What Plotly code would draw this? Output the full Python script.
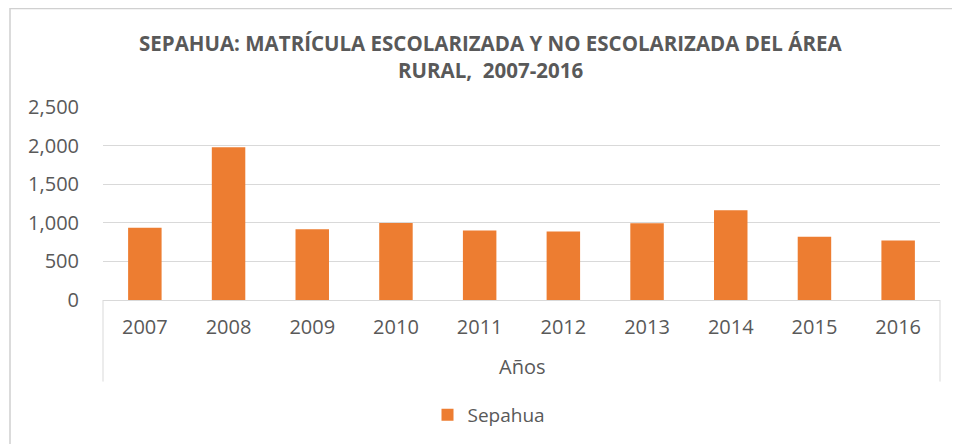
import plotly.graph_objects as go

years = ["2007", "2008", "2009", "2010", "2011", "2012", "2013", "2014", "2015", "2016"]
sepahua = [935, 1978, 918, 996, 901, 888, 995, 1164, 819, 772]
y_ticks = [0, 500, 1000, 1500, 2000, 2500]

# page body has an 8px margin; work in target-page coordinates and shift
OFF = 8
W, H = 960 - OFF, 444 - OFF
PL, PR, PT, PB = 103, 940, 107, 301  # plot area in page coordinates
L, T = PL - OFF, PT - OFF
R, B = W - (PR - OFF), H - (PB - OFF)
pw, ph = PR - PL, PB - PT

def px(x):
    return (x - PL) / pw

def py(y):
    return (PB - y) / ph

GRAY = "#595959"
FONT = "Open Sans"

fig = go.Figure()
fig.add_trace(go.Bar(x=years, y=sepahua, name="Sepahua", marker_color="#ED7D31",
                     marker_line_width=0))

fig.update_layout(
    width=W, height=H,
    margin=dict(l=L, r=R, t=T, b=B),
    paper_bgcolor="white", plot_bgcolor="white",
    bargap=0.6,
    font=dict(family=FONT, color=GRAY, size=18),
    showlegend=True,
    legend=dict(orientation="h", x=px(489), xanchor="center", y=py(415), yanchor="middle",
                font=dict(size=19, color=GRAY, family=FONT), itemwidth=30),
    xaxis=dict(showgrid=False, showline=True, linecolor="#d9d9d9", linewidth=1,
               ticks="", ticklabelstandoff=9, tickfont=dict(size=20, color=GRAY),
               zeroline=False),
    yaxis=dict(range=[0, 2500], tickvals=y_ticks, tickformat=",", showgrid=True,
               gridcolor="#d9d9d9", gridwidth=1, showline=False, zeroline=False,
               ticks="", ticklabelstandoff=23, tickfont=dict(size=20, color=GRAY)),
    annotations=[
        dict(text="<b>SEPAHUA: MATRÍCULA ESCOLARIZADA Y NO ESCOLARIZADA DEL ÁREA</b>",
             xref="paper", yref="paper", x=px(490), y=py(43), xanchor="center", yanchor="middle",
             showarrow=False, font=dict(size=20.5, color=GRAY, family=FONT)),
        dict(text="<b>RURAL,  2007-2016</b>",
             xref="paper", yref="paper", x=px(490), y=py(70), xanchor="center", yanchor="middle",
             showarrow=False, font=dict(size=20.5, color=GRAY, family=FONT)),
        dict(text="Años", xref="paper", yref="paper", x=px(522), y=py(368),
             xanchor="center", yanchor="middle", showarrow=False,
             font=dict(size=20, color=GRAY, family=FONT)),
    ],
    shapes=[
        dict(type="rect", xref="paper", yref="paper", x0=px(10), x1=px(1000), y0=py(480), y1=py(8),
             line=dict(color="#d0d0d0", width=1.5), layer="below"),
        dict(type="line", xref="paper", yref="paper", x0=0, x1=0, y0=0, y1=py(383),
             line=dict(color="#d9d9d9", width=1)),
        dict(type="line", xref="paper", yref="paper", x0=1, x1=1, y0=0, y1=py(383),
             line=dict(color="#d9d9d9", width=1)),
    ],
)

fig.write_html("out.html")
